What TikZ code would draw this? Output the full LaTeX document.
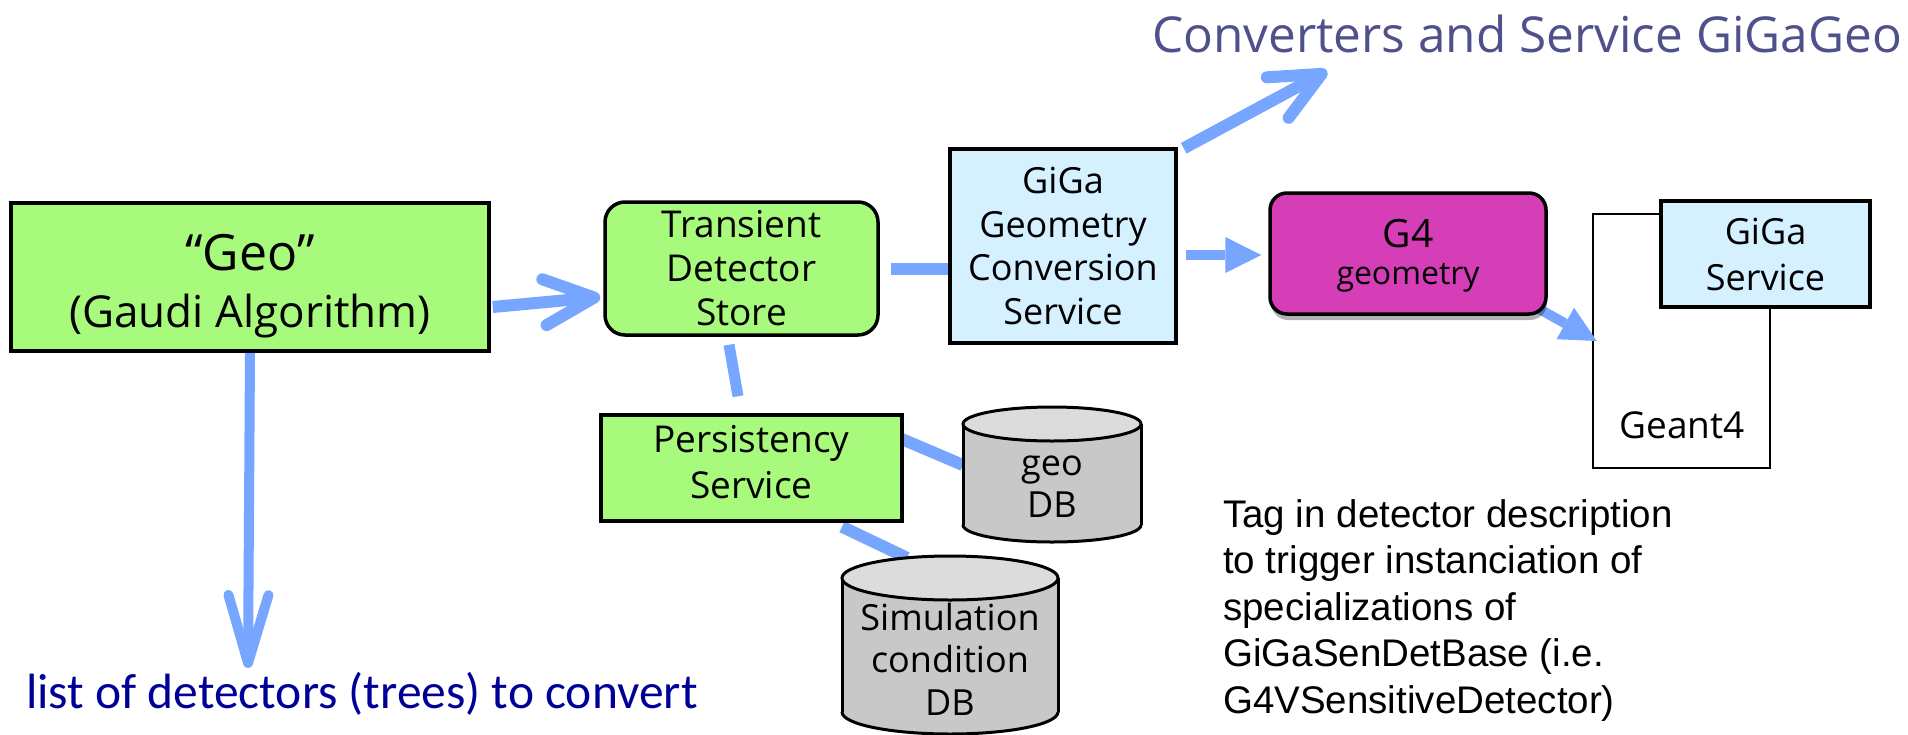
\documentclass[tikz,border=0pt]{standalone}
\usepackage{fontspec}
\setmainfont{Open Sans}
\newfontfamily\tagfont{Liberation Sans}
\newfontfamily\listfont{Carlito}
\usetikzlibrary{arrows.meta,shadows,backgrounds}
\definecolor{boxgreen}{RGB}{168,250,124}
\definecolor{boxblue}{RGB}{213,240,255}
\definecolor{g4mag}{RGB}{214,62,184}
\definecolor{arrowblue}{RGB}{118,166,255}
\definecolor{titleblue}{RGB}{80,80,140}
\definecolor{listnavy}{RGB}{0,0,150}
\definecolor{cylbody}{RGB}{200,200,200}
\definecolor{cyltop}{RGB}{220,220,220}
\begin{document}
\begin{tikzpicture}[x=1pt,y=-1pt,
  boxnode/.style={draw=black, line width=3.5pt, inner sep=0pt, align=center},
  conn/.style={draw=arrowblue, line width=12pt},
  barbtip/.style={-{Straight Barb[length=50pt,width=46pt,round]}},
  tritip/.style={-{Triangle[length=36pt,width=36pt,line width=0pt]}},
  cylline/.style={draw=black, line width=3pt},
  plain/.style={inner sep=0pt}
]
\useasboundingbox (0,0) rectangle (1908,734);

% ---------- boxes ----------
\node[boxnode, fill=boxgreen, minimum width=478pt, minimum height=148pt,
      font=\fontsize{44}{57}\selectfont] (geo) at (250,277)
      {\rule{0pt}{55pt}{\fontsize{50}{57}\selectfont “Geo”}\\(Gaudi Algorithm)};

\node[boxnode, fill=boxgreen, rounded corners=20pt, minimum width=273pt, minimum height=133pt,
      font=\fontsize{37}{44}\selectfont] (tds) at (741.5,268.5)
      {Transient\\Detector\\Store};

\node[boxnode, fill=boxblue, minimum width=226pt, minimum height=194pt,
      font=\fontsize{36}{43.5}\selectfont] (giga) at (1063,246)
      {GiGa\\Geometry\\Conversion\\Service};

\node[boxnode, fill=g4mag, rounded corners=17pt, minimum width=276pt, minimum height=121pt,
      font=\fontsize{32}{37}\selectfont,
      drop shadow={shadow xshift=1pt, shadow yshift=-6pt, opacity=0.3, fill=black}] (g4) at (1408,253.5)
      {\rule{0pt}{32pt}{\fontsize{39}{37}\selectfont G4}\\geometry};

\node[boxnode, fill=boxblue, minimum width=209pt, minimum height=106pt,
      font=\fontsize{36}{46}\selectfont] (gigasvc) at (1765.5,254)
      {GiGa\\Service};

\node[boxnode, fill=boxgreen, minimum width=301pt, minimum height=106pt,
      font=\fontsize{37}{46}\selectfont] (pers) at (751.5,468)
      {Persistency\\Service\rule[-12pt]{0pt}{12pt}};

% ---------- databases ----------
% geo DB
\fill[cylbody] (963,424) rectangle (1141,525);
\fill[cylbody] (1052,525) ellipse [x radius=89, y radius=17];
\draw[cylline] (963,424) -- (963,525);
\draw[cylline] (1141,424) -- (1141,525);
\begin{scope}
  \clip (940,525) rectangle (1160,560);
  \draw[cylline] (1052,525) ellipse [x radius=89, y radius=17];
\end{scope}
\filldraw[cylline, fill=cyltop] (1052,424) ellipse [x radius=89, y radius=17];
\node[plain, minimum width=178pt, minimum height=135pt] (geodb) at (1052,474.5) {};
\node[plain, align=center, font=\fontsize{36}{42}\selectfont] (geodbtxt) at (1052,487) {geo\\DB};

% simulation condition DB
\fill[cylbody] (842,578) rectangle (1058,712);
\fill[cylbody] (950,712) ellipse [x radius=108, y radius=22];
\draw[cylline] (842,578) -- (842,712);
\draw[cylline] (1058,578) -- (1058,712);
\begin{scope}
  \clip (820,712) rectangle (1080,760);
  \draw[cylline] (950,712) ellipse [x radius=108, y radius=22];
\end{scope}
\filldraw[cylline, fill=cyltop] (950,578) ellipse [x radius=108, y radius=22];
\node[plain, minimum width=216pt, minimum height=178pt] (simdb) at (950,645) {};
\node[plain, align=center, font=\fontsize{36}{42.5}\selectfont] (simdbtxt) at (950,659)
      {Simulation\\condition\\DB};

% ---------- free texts ----------
\node[plain, anchor=base west, text=titleblue, font=\fontsize{49.5}{55}\selectfont] (conv) at (1152,52)
      {Converters and Service GiGaGeo};
\node[plain, anchor=base west, text=listnavy, font=\listfont\fontsize{49.5}{55}\selectfont] (list) at (26,708)
      {list of detectors (trees) to convert};
\node[plain, anchor=north west, align=left, font=\tagfont\fontsize{38.5}{46.5}\selectfont] (tag) at (1223,499)
      {Tag in detector description\\to trigger instanciation of\\specializations of\\GiGaSenDetBase (i.e.\\G4VSensitiveDetector)};

% ---------- background: Geant4 box and connectors ----------
\begin{scope}[on background layer]
  \node[draw=black, line width=2.5pt, fill=white, minimum width=177pt, minimum height=254pt, inner sep=0pt]
        (geant4) at (1681.5,341) {};
  \node[plain, anchor=base, font=\fontsize{37}{44}\selectfont] (geant4txt) at (1682,438) {Geant4};

  \draw[conn, barbtip] ([xshift=2pt,yshift=-30pt]geo.east) -- ([xshift=-3pt,yshift=-28.5pt]tds.west);
  \draw[conn] ([xshift=11pt]tds.east) -- ([xshift=3pt,yshift=-22.5pt]giga.west);
  \draw[conn, barbtip] ([xshift=6pt,yshift=-1pt]giga.north east) -- ([xshift=175pt,yshift=-19pt]conv.base west);
  \draw[conn, line width=10pt, tritip] ([xshift=8pt,yshift=-9pt]giga.east) -- ([xshift=-7pt,yshift=-1.5pt]g4.west);
  \draw[conn, line width=10pt, tritip] ([xshift=-9pt,yshift=7pt]g4.south east) -- ([xshift=5pt]geant4.west);
  \draw[conn, line width=11pt] ([xshift=-12.5pt,yshift=-8pt]tds.south) -- ([xshift=-13.5pt,yshift=17pt]pers.north);
  \draw[conn] ([xshift=-2pt,yshift=29pt]pers.east) -- ([yshift=9.5pt]geodb.west);
  \draw[conn] ([xshift=90.5pt,yshift=-4pt]pers.south) -- ([xshift=-43pt,yshift=-2pt]simdb.north);
  \draw[conn, line width=10pt, -{Straight Barb[length=68pt,width=40pt,round]}]
        (geo.south) -- ([xshift=222pt,yshift=40pt]list.base west);
\end{scope}
\end{tikzpicture}
\end{document}
